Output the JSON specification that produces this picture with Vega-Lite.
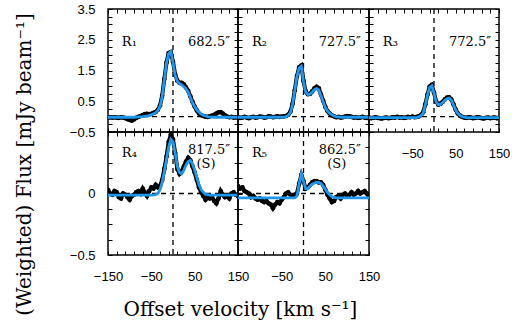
{
"$schema":"https://vega.github.io/schema/vega-lite/v6.json",
"background":"white",
"padding":{"left":13,"top":2,"right":5,"bottom":5},
"datasets":{
"spec":[
{"p":"R1","v":-150,"o":-0.03,"m":-0.02},{"p":"R1","v":-145,"o":-0.02,"m":-0.02},{"p":"R1","v":-140,"o":-0.03,"m":-0.02},{"p":"R1","v":-135,"o":-0.02,"m":-0.02},{"p":"R1","v":-130,"o":-0.03,"m":-0.02},{"p":"R1","v":-125,"o":-0.04,"m":-0.02},{"p":"R1","v":-120,"o":-0.02,"m":-0.02},{"p":"R1","v":-115,"o":-0.03,"m":-0.02},{"p":"R1","v":-110,"o":-0.05,"m":-0.02},{"p":"R1","v":-105,"o":-0.08,"m":-0.02},{"p":"R1","v":-100,"o":-0.11,"m":-0.02},{"p":"R1","v":-95,"o":-0.13,"m":-0.02},{"p":"R1","v":-90,"o":-0.09,"m":-0.02},{"p":"R1","v":-85,"o":-0.04,"m":-0.015},{"p":"R1","v":-80,"o":-0.01,"m":-0.01},{"p":"R1","v":-75,"o":0.02,"m":-0.005},{"p":"R1","v":-70,"o":0.05,"m":0.0},{"p":"R1","v":-65,"o":0.08,"m":0.01},{"p":"R1","v":-60,"o":0.09,"m":0.02},{"p":"R1","v":-55,"o":0.08,"m":0.035},{"p":"R1","v":-50,"o":0.09,"m":0.06},{"p":"R1","v":-45,"o":0.12,"m":0.09},{"p":"R1","v":-40,"o":0.15,"m":0.13},{"p":"R1","v":-35,"o":0.22,"m":0.2},{"p":"R1","v":-30,"o":0.36,"m":0.33},{"p":"R1","v":-25,"o":0.68,"m":0.65},{"p":"R1","v":-20,"o":1.22,"m":1.2},{"p":"R1","v":-15,"o":1.76,"m":1.74},{"p":"R1","v":-10,"o":2.07,"m":2.05},{"p":"R1","v":-5,"o":2.1,"m":2.12},{"p":"R1","v":0,"o":1.78,"m":1.75},{"p":"R1","v":5,"o":1.37,"m":1.35},{"p":"R1","v":10,"o":1.17,"m":1.15},{"p":"R1","v":15,"o":1.1,"m":1.07},{"p":"R1","v":20,"o":1.1,"m":1.03},{"p":"R1","v":25,"o":1.05,"m":0.97},{"p":"R1","v":30,"o":0.95,"m":0.9},{"p":"R1","v":35,"o":0.84,"m":0.8},{"p":"R1","v":40,"o":0.66,"m":0.62},{"p":"R1","v":45,"o":0.48,"m":0.45},{"p":"R1","v":50,"o":0.33,"m":0.33},{"p":"R1","v":55,"o":0.2,"m":0.22},{"p":"R1","v":60,"o":0.1,"m":0.14},{"p":"R1","v":65,"o":0.05,"m":0.08},{"p":"R1","v":70,"o":0.02,"m":0.05},{"p":"R1","v":75,"o":0.0,"m":0.02},{"p":"R1","v":80,"o":-0.01,"m":0.0},{"p":"R1","v":85,"o":0.01,"m":-0.01},{"p":"R1","v":90,"o":0.03,"m":-0.015},{"p":"R1","v":95,"o":0.06,"m":-0.02},{"p":"R1","v":100,"o":0.1,"m":-0.02},{"p":"R1","v":105,"o":0.14,"m":-0.02},{"p":"R1","v":110,"o":0.15,"m":-0.02},{"p":"R1","v":115,"o":0.1,"m":-0.02},{"p":"R1","v":120,"o":0.04,"m":-0.02},{"p":"R1","v":125,"o":0.0,"m":-0.02},{"p":"R1","v":130,"o":-0.02,"m":-0.02},{"p":"R1","v":135,"o":-0.01,"m":-0.02},{"p":"R1","v":140,"o":-0.03,"m":-0.02},{"p":"R1","v":145,"o":-0.02,"m":-0.02},{"p":"R1","v":150,"o":-0.03,"m":-0.02},
{"p":"R2","v":-150,"o":-0.02,"m":-0.02},{"p":"R2","v":-145,"o":-0.04,"m":-0.02},{"p":"R2","v":-140,"o":-0.03,"m":-0.02},{"p":"R2","v":-135,"o":-0.01,"m":-0.02},{"p":"R2","v":-130,"o":-0.03,"m":-0.02},{"p":"R2","v":-125,"o":-0.05,"m":-0.02},{"p":"R2","v":-120,"o":-0.02,"m":-0.02},{"p":"R2","v":-115,"o":-0.01,"m":-0.02},{"p":"R2","v":-110,"o":-0.03,"m":-0.02},{"p":"R2","v":-105,"o":-0.02,"m":-0.02},{"p":"R2","v":-100,"o":0.0,"m":-0.02},{"p":"R2","v":-95,"o":-0.01,"m":-0.02},{"p":"R2","v":-90,"o":-0.03,"m":-0.02},{"p":"R2","v":-85,"o":-0.02,"m":-0.02},{"p":"R2","v":-80,"o":0.01,"m":-0.02},{"p":"R2","v":-75,"o":0.0,"m":-0.02},{"p":"R2","v":-70,"o":-0.02,"m":-0.02},{"p":"R2","v":-65,"o":-0.01,"m":-0.02},{"p":"R2","v":-60,"o":0.01,"m":-0.02},{"p":"R2","v":-55,"o":-0.01,"m":-0.02},{"p":"R2","v":-50,"o":0.0,"m":-0.02},{"p":"R2","v":-45,"o":0.01,"m":-0.02},{"p":"R2","v":-40,"o":0.02,"m":0.0},{"p":"R2","v":-35,"o":0.06,"m":0.04},{"p":"R2","v":-30,"o":0.16,"m":0.13},{"p":"R2","v":-25,"o":0.42,"m":0.4},{"p":"R2","v":-20,"o":0.86,"m":0.85},{"p":"R2","v":-15,"o":1.32,"m":1.3},{"p":"R2","v":-10,"o":1.6,"m":1.58},{"p":"R2","v":-5,"o":1.66,"m":1.64},{"p":"R2","v":0,"o":1.16,"m":1.14},{"p":"R2","v":5,"o":0.82,"m":0.8},{"p":"R2","v":10,"o":0.73,"m":0.72},{"p":"R2","v":15,"o":0.74,"m":0.73},{"p":"R2","v":20,"o":0.82,"m":0.8},{"p":"R2","v":25,"o":0.92,"m":0.88},{"p":"R2","v":30,"o":0.97,"m":0.92},{"p":"R2","v":35,"o":0.92,"m":0.86},{"p":"R2","v":40,"o":0.72,"m":0.68},{"p":"R2","v":45,"o":0.52,"m":0.48},{"p":"R2","v":50,"o":0.32,"m":0.3},{"p":"R2","v":55,"o":0.18,"m":0.18},{"p":"R2","v":60,"o":0.1,"m":0.11},{"p":"R2","v":65,"o":0.04,"m":0.06},{"p":"R2","v":70,"o":0.01,"m":0.02},{"p":"R2","v":75,"o":-0.02,"m":0.0},{"p":"R2","v":80,"o":-0.01,"m":-0.01},{"p":"R2","v":85,"o":-0.03,"m":-0.02},{"p":"R2","v":90,"o":-0.02,"m":-0.02},{"p":"R2","v":95,"o":0.0,"m":-0.02},{"p":"R2","v":100,"o":0.02,"m":-0.02},{"p":"R2","v":105,"o":0.01,"m":-0.02},{"p":"R2","v":110,"o":-0.01,"m":-0.02},{"p":"R2","v":115,"o":-0.03,"m":-0.02},{"p":"R2","v":120,"o":-0.02,"m":-0.02},{"p":"R2","v":125,"o":-0.04,"m":-0.02},{"p":"R2","v":130,"o":-0.03,"m":-0.02},{"p":"R2","v":135,"o":-0.01,"m":-0.02},{"p":"R2","v":140,"o":-0.03,"m":-0.02},{"p":"R2","v":145,"o":-0.04,"m":-0.02},{"p":"R2","v":150,"o":-0.02,"m":-0.02},
{"p":"R3","v":-150,"o":-0.03,"m":-0.03},{"p":"R3","v":-145,"o":-0.05,"m":-0.03},{"p":"R3","v":-140,"o":-0.04,"m":-0.03},{"p":"R3","v":-135,"o":-0.02,"m":-0.03},{"p":"R3","v":-130,"o":-0.04,"m":-0.03},{"p":"R3","v":-125,"o":-0.05,"m":-0.03},{"p":"R3","v":-120,"o":-0.06,"m":-0.03},{"p":"R3","v":-115,"o":-0.04,"m":-0.03},{"p":"R3","v":-110,"o":-0.03,"m":-0.03},{"p":"R3","v":-105,"o":-0.05,"m":-0.03},{"p":"R3","v":-100,"o":-0.04,"m":-0.03},{"p":"R3","v":-95,"o":-0.02,"m":-0.03},{"p":"R3","v":-90,"o":-0.03,"m":-0.03},{"p":"R3","v":-85,"o":-0.01,"m":-0.03},{"p":"R3","v":-80,"o":-0.03,"m":-0.03},{"p":"R3","v":-75,"o":-0.02,"m":-0.03},{"p":"R3","v":-70,"o":-0.04,"m":-0.03},{"p":"R3","v":-65,"o":-0.03,"m":-0.03},{"p":"R3","v":-60,"o":-0.01,"m":-0.03},{"p":"R3","v":-55,"o":-0.02,"m":-0.03},{"p":"R3","v":-50,"o":0.0,"m":-0.03},{"p":"R3","v":-45,"o":-0.02,"m":-0.03},{"p":"R3","v":-40,"o":-0.01,"m":-0.03},{"p":"R3","v":-35,"o":0.01,"m":-0.01},{"p":"R3","v":-30,"o":0.05,"m":0.03},{"p":"R3","v":-25,"o":0.14,"m":0.11},{"p":"R3","v":-20,"o":0.4,"m":0.38},{"p":"R3","v":-15,"o":0.72,"m":0.7},{"p":"R3","v":-10,"o":0.98,"m":0.95},{"p":"R3","v":-5,"o":1.03,"m":1.0},{"p":"R3","v":0,"o":0.78,"m":0.76},{"p":"R3","v":5,"o":0.49,"m":0.48},{"p":"R3","v":10,"o":0.39,"m":0.38},{"p":"R3","v":15,"o":0.42,"m":0.4},{"p":"R3","v":20,"o":0.48,"m":0.46},{"p":"R3","v":25,"o":0.56,"m":0.53},{"p":"R3","v":30,"o":0.62,"m":0.58},{"p":"R3","v":35,"o":0.63,"m":0.6},{"p":"R3","v":40,"o":0.56,"m":0.54},{"p":"R3","v":45,"o":0.4,"m":0.38},{"p":"R3","v":50,"o":0.23,"m":0.22},{"p":"R3","v":55,"o":0.1,"m":0.1},{"p":"R3","v":60,"o":0.03,"m":0.04},{"p":"R3","v":65,"o":-0.01,"m":0.0},{"p":"R3","v":70,"o":-0.03,"m":-0.02},{"p":"R3","v":75,"o":-0.04,"m":-0.03},{"p":"R3","v":80,"o":-0.02,"m":-0.03},{"p":"R3","v":85,"o":-0.03,"m":-0.03},{"p":"R3","v":90,"o":-0.05,"m":-0.03},{"p":"R3","v":95,"o":-0.04,"m":-0.03},{"p":"R3","v":100,"o":-0.02,"m":-0.03},{"p":"R3","v":105,"o":-0.03,"m":-0.03},{"p":"R3","v":110,"o":-0.05,"m":-0.03},{"p":"R3","v":115,"o":-0.06,"m":-0.03},{"p":"R3","v":120,"o":-0.04,"m":-0.03},{"p":"R3","v":125,"o":-0.03,"m":-0.03},{"p":"R3","v":130,"o":-0.05,"m":-0.03},{"p":"R3","v":135,"o":-0.04,"m":-0.03},{"p":"R3","v":140,"o":-0.03,"m":-0.03},{"p":"R3","v":145,"o":-0.05,"m":-0.03},{"p":"R3","v":150,"o":-0.04,"m":-0.03},
{"p":"R4","v":-150,"o":0.03,"m":-0.013},{"p":"R4","v":-145,"o":0.0,"m":-0.013},{"p":"R4","v":-140,"o":-0.01,"m":-0.013},{"p":"R4","v":-135,"o":0.02,"m":-0.013},{"p":"R4","v":-130,"o":0.01,"m":-0.013},{"p":"R4","v":-125,"o":-0.03,"m":-0.013},{"p":"R4","v":-120,"o":-0.04,"m":-0.013},{"p":"R4","v":-115,"o":0.0,"m":-0.013},{"p":"R4","v":-110,"o":-0.01,"m":-0.013},{"p":"R4","v":-105,"o":-0.03,"m":-0.013},{"p":"R4","v":-100,"o":-0.05,"m":-0.013},{"p":"R4","v":-95,"o":-0.02,"m":-0.013},{"p":"R4","v":-90,"o":-0.01,"m":-0.013},{"p":"R4","v":-85,"o":0.01,"m":-0.013},{"p":"R4","v":-80,"o":0.02,"m":-0.013},{"p":"R4","v":-75,"o":0.0,"m":-0.013},{"p":"R4","v":-70,"o":0.04,"m":-0.013},{"p":"R4","v":-65,"o":0.01,"m":-0.013},{"p":"R4","v":-60,"o":-0.02,"m":-0.013},{"p":"R4","v":-55,"o":0.02,"m":-0.013},{"p":"R4","v":-50,"o":0.05,"m":-0.013},{"p":"R4","v":-45,"o":0.04,"m":-0.012},{"p":"R4","v":-40,"o":0.07,"m":-0.01},{"p":"R4","v":-35,"o":0.05,"m":0.0},{"p":"R4","v":-30,"o":0.06,"m":0.03},{"p":"R4","v":-25,"o":0.11,"m":0.09},{"p":"R4","v":-20,"o":0.2,"m":0.18},{"p":"R4","v":-15,"o":0.3,"m":0.28},{"p":"R4","v":-10,"o":0.42,"m":0.38},{"p":"R4","v":-5,"o":0.48,"m":0.44},{"p":"R4","v":0,"o":0.44,"m":0.42},{"p":"R4","v":5,"o":0.33,"m":0.33},{"p":"R4","v":10,"o":0.2,"m":0.22},{"p":"R4","v":15,"o":0.16,"m":0.17},{"p":"R4","v":20,"o":0.18,"m":0.16},{"p":"R4","v":25,"o":0.22,"m":0.19},{"p":"R4","v":30,"o":0.26,"m":0.23},{"p":"R4","v":35,"o":0.29,"m":0.26},{"p":"R4","v":40,"o":0.27,"m":0.27},{"p":"R4","v":45,"o":0.22,"m":0.24},{"p":"R4","v":50,"o":0.17,"m":0.19},{"p":"R4","v":55,"o":0.11,"m":0.13},{"p":"R4","v":60,"o":0.05,"m":0.07},{"p":"R4","v":65,"o":0.01,"m":0.03},{"p":"R4","v":70,"o":-0.02,"m":0.01},{"p":"R4","v":75,"o":-0.05,"m":-0.005},{"p":"R4","v":80,"o":-0.03,"m":-0.01},{"p":"R4","v":85,"o":-0.04,"m":-0.013},{"p":"R4","v":90,"o":-0.03,"m":-0.013},{"p":"R4","v":95,"o":-0.06,"m":-0.013},{"p":"R4","v":100,"o":-0.08,"m":-0.013},{"p":"R4","v":105,"o":-0.04,"m":-0.013},{"p":"R4","v":110,"o":0.02,"m":-0.013},{"p":"R4","v":115,"o":-0.01,"m":-0.013},{"p":"R4","v":120,"o":-0.03,"m":-0.013},{"p":"R4","v":125,"o":-0.02,"m":-0.013},{"p":"R4","v":130,"o":-0.04,"m":-0.013},{"p":"R4","v":135,"o":0.0,"m":-0.013},{"p":"R4","v":140,"o":0.01,"m":-0.013},{"p":"R4","v":145,"o":-0.01,"m":-0.013},{"p":"R4","v":150,"o":-0.02,"m":-0.013},
{"p":"R5","v":-150,"o":0.06,"m":-0.035},{"p":"R5","v":-145,"o":0.04,"m":-0.035},{"p":"R5","v":-140,"o":0.05,"m":-0.035},{"p":"R5","v":-135,"o":0.02,"m":-0.035},{"p":"R5","v":-130,"o":0.01,"m":-0.035},{"p":"R5","v":-125,"o":0.0,"m":-0.035},{"p":"R5","v":-120,"o":-0.03,"m":-0.035},{"p":"R5","v":-115,"o":-0.02,"m":-0.035},{"p":"R5","v":-110,"o":-0.04,"m":-0.035},{"p":"R5","v":-105,"o":-0.05,"m":-0.035},{"p":"R5","v":-100,"o":-0.04,"m":-0.035},{"p":"R5","v":-95,"o":-0.06,"m":-0.035},{"p":"R5","v":-90,"o":-0.07,"m":-0.035},{"p":"R5","v":-85,"o":-0.06,"m":-0.035},{"p":"R5","v":-80,"o":-0.08,"m":-0.035},{"p":"R5","v":-75,"o":-0.09,"m":-0.035},{"p":"R5","v":-70,"o":-0.12,"m":-0.035},{"p":"R5","v":-65,"o":-0.09,"m":-0.035},{"p":"R5","v":-60,"o":-0.07,"m":-0.035},{"p":"R5","v":-55,"o":-0.08,"m":-0.035},{"p":"R5","v":-50,"o":-0.05,"m":-0.035},{"p":"R5","v":-45,"o":-0.03,"m":-0.035},{"p":"R5","v":-40,"o":0.0,"m":-0.035},{"p":"R5","v":-35,"o":0.01,"m":-0.035},{"p":"R5","v":-30,"o":-0.01,"m":-0.035},{"p":"R5","v":-25,"o":-0.02,"m":-0.035},{"p":"R5","v":-20,"o":-0.01,"m":-0.035},{"p":"R5","v":-15,"o":0.0,"m":-0.02},{"p":"R5","v":-10,"o":0.08,"m":0.08},{"p":"R5","v":-5,"o":0.15,"m":0.16},{"p":"R5","v":0,"o":0.1,"m":0.1},{"p":"R5","v":5,"o":0.04,"m":0.04},{"p":"R5","v":10,"o":0.05,"m":0.04},{"p":"R5","v":15,"o":0.07,"m":0.06},{"p":"R5","v":20,"o":0.09,"m":0.075},{"p":"R5","v":25,"o":0.1,"m":0.085},{"p":"R5","v":30,"o":0.1,"m":0.09},{"p":"R5","v":35,"o":0.09,"m":0.09},{"p":"R5","v":40,"o":0.09,"m":0.08},{"p":"R5","v":45,"o":0.07,"m":0.06},{"p":"R5","v":50,"o":0.03,"m":0.035},{"p":"R5","v":55,"o":-0.01,"m":0.01},{"p":"R5","v":60,"o":-0.04,"m":-0.01},{"p":"R5","v":65,"o":-0.07,"m":-0.025},{"p":"R5","v":70,"o":-0.06,"m":-0.032},{"p":"R5","v":75,"o":-0.03,"m":-0.035},{"p":"R5","v":80,"o":-0.02,"m":-0.035},{"p":"R5","v":85,"o":-0.04,"m":-0.035},{"p":"R5","v":90,"o":-0.01,"m":-0.035},{"p":"R5","v":95,"o":0.0,"m":-0.035},{"p":"R5","v":100,"o":-0.02,"m":-0.035},{"p":"R5","v":105,"o":-0.01,"m":-0.035},{"p":"R5","v":110,"o":0.01,"m":-0.035},{"p":"R5","v":115,"o":-0.01,"m":-0.035},{"p":"R5","v":120,"o":0.0,"m":-0.035},{"p":"R5","v":125,"o":0.02,"m":-0.035},{"p":"R5","v":130,"o":0.0,"m":-0.035},{"p":"R5","v":135,"o":0.01,"m":-0.035},{"p":"R5","v":140,"o":0.02,"m":-0.035},{"p":"R5","v":145,"o":0.0,"m":-0.035},{"p":"R5","v":150,"o":-0.03,"m":-0.035}
],
"labels":[
{"p":"R1","k":"r","v":-118,"f":2.43,"t":"R₁"},{"p":"R1","k":"n","v":83,"f":2.43,"t":"682.5″"},
{"p":"R2","k":"r","v":-118,"f":2.43,"t":"R₂"},{"p":"R2","k":"n","v":83,"f":2.43,"t":"727.5″"},
{"p":"R3","k":"r","v":-118,"f":2.43,"t":"R₃"},{"p":"R3","k":"n","v":83,"f":2.43,"t":"772.5″"},
{"p":"R4","k":"r","v":-118,"f":0.33,"t":"R₄"},{"p":"R4","k":"n","v":83,"f":0.35,"t":"817.5″"},{"p":"R4","k":"n","v":76,"f":0.24,"t":"(S)"},
{"p":"R5","k":"r","v":-118,"f":0.33,"t":"R₅"},{"p":"R5","k":"n","v":83,"f":0.35,"t":"862.5″"},{"p":"R5","k":"n","v":76,"f":0.24,"t":"(S)"}
]
},
"spacing":0,
"bounds":"flush",
"columns":3,
"concat":[
{"width":130,"height":123,"resolve":{"axis":{"x":"independent","y":"independent"}},"layer":[
{"data":{"values":[{}]},"mark":{"type":"rule","strokeDash":[5,4],"strokeWidth":1.3,"color":"black"},"encoding":{"y":{"datum":0,"type":"quantitative","axis":null}}},
{"data":{"values":[{}]},"mark":{"type":"rule","strokeDash":[5,4],"strokeWidth":1.3,"color":"black"},"encoding":{"x":{"datum":0,"type":"quantitative","axis":null}}},
{"data":{"name":"spec"},"transform":[{"filter":"datum.p=='R1'"}],"mark":{"type":"line","color":"black","strokeWidth":4,"clip":true},"encoding":{"x":{"field":"v","type":"quantitative","scale":{"domain":[-150,150],"nice":false,"zero":false},"axis":{"orient":"top","labels":false,"title":null,"values":[-150,-130,-110,-90,-70,-50,-30,-10,10,30,50,70,90,110,130,150]}},"y":{"field":"o","type":"quantitative","scale":{"domain":[-0.5,3.5],"nice":false,"zero":false},"axis":{"orient":"right","labels":false,"title":null,"values":[-0.5,-0.25,0,0.25,0.5,0.75,1,1.25,1.5,1.75,2,2.25,2.5,2.75,3,3.25,3.5]}}}},
{"data":{"name":"spec"},"transform":[{"filter":"datum.p=='R1'"}],"mark":{"type":"circle","color":"black","size":22,"opacity":1,"clip":true},"encoding":{"x":{"field":"v","type":"quantitative","axis":null},"y":{"field":"o","type":"quantitative","axis":null}}},
{"data":{"name":"spec"},"transform":[{"filter":"datum.p=='R1'"}],"mark":{"type":"line","color":"#1f97ec","strokeWidth":2.8,"clip":true},"encoding":{"x":{"field":"v","type":"quantitative","axis":{"orient":"bottom","labels":false,"title":null,"values":[-150,-130,-110,-90,-70,-50,-30,-10,10,30,50,70,90,110,130,150]}},"y":{"field":"m","type":"quantitative","axis":{"orient":"left","title":null,"labelPadding":17,"values":[-0.5,-0.25,0,0.25,0.5,0.75,1,1.25,1.5,1.75,2,2.25,2.5,2.75,3,3.25,3.5],"labelExpr":"abs((datum.value*2)%2)==1 ? format(datum.value,'.1f') : ''"}}}},
{"data":{"name":"labels"},"transform":[{"filter":"datum.p=='R1' && datum.k=='r'"}],"mark":{"type":"text","align":"left","baseline":"middle","font":"DejaVu Serif","fontSize":13,"color":"black"},"encoding":{"x":{"field":"v","type":"quantitative","axis":null},"y":{"field":"f","type":"quantitative","axis":null},"text":{"field":"t"}}},
{"data":{"name":"labels"},"transform":[{"filter":"datum.p=='R1' && datum.k=='n'"}],"mark":{"type":"text","align":"center","baseline":"middle","font":"DejaVu Serif","fontSize":13,"color":"black"},"encoding":{"x":{"field":"v","type":"quantitative","axis":null},"y":{"field":"f","type":"quantitative","axis":null},"text":{"field":"t"}}}
]},
{"width":131,"height":123,"resolve":{"axis":{"x":"independent","y":"independent"}},"layer":[
{"data":{"values":[{}]},"mark":{"type":"rule","strokeDash":[5,4],"strokeWidth":1.3,"color":"black"},"encoding":{"y":{"datum":0,"type":"quantitative","axis":null}}},
{"data":{"values":[{}]},"mark":{"type":"rule","strokeDash":[5,4],"strokeWidth":1.3,"color":"black"},"encoding":{"x":{"datum":0,"type":"quantitative","axis":null}}},
{"data":{"name":"spec"},"transform":[{"filter":"datum.p=='R2'"}],"mark":{"type":"line","color":"black","strokeWidth":4,"clip":true},"encoding":{"x":{"field":"v","type":"quantitative","scale":{"domain":[-150,150],"nice":false,"zero":false},"axis":{"orient":"top","labels":false,"title":null,"values":[-150,-130,-110,-90,-70,-50,-30,-10,10,30,50,70,90,110,130,150]}},"y":{"field":"o","type":"quantitative","scale":{"domain":[-0.5,3.5],"nice":false,"zero":false},"axis":{"orient":"right","labels":false,"title":null,"values":[-0.5,-0.25,0,0.25,0.5,0.75,1,1.25,1.5,1.75,2,2.25,2.5,2.75,3,3.25,3.5]}}}},
{"data":{"name":"spec"},"transform":[{"filter":"datum.p=='R2'"}],"mark":{"type":"circle","color":"black","size":22,"opacity":1,"clip":true},"encoding":{"x":{"field":"v","type":"quantitative","axis":null},"y":{"field":"o","type":"quantitative","axis":null}}},
{"data":{"name":"spec"},"transform":[{"filter":"datum.p=='R2'"}],"mark":{"type":"line","color":"#1f97ec","strokeWidth":2.8,"clip":true},"encoding":{"x":{"field":"v","type":"quantitative","axis":{"orient":"bottom","labels":false,"title":null,"values":[-150,-130,-110,-90,-70,-50,-30,-10,10,30,50,70,90,110,130,150]}},"y":{"field":"m","type":"quantitative","axis":{"orient":"left","title":null,"labels":false,"values":[-0.5,-0.25,0,0.25,0.5,0.75,1,1.25,1.5,1.75,2,2.25,2.5,2.75,3,3.25,3.5]}}}},
{"data":{"name":"labels"},"transform":[{"filter":"datum.p=='R2' && datum.k=='r'"}],"mark":{"type":"text","align":"left","baseline":"middle","font":"DejaVu Serif","fontSize":13,"color":"black"},"encoding":{"x":{"field":"v","type":"quantitative","axis":null},"y":{"field":"f","type":"quantitative","axis":null},"text":{"field":"t"}}},
{"data":{"name":"labels"},"transform":[{"filter":"datum.p=='R2' && datum.k=='n'"}],"mark":{"type":"text","align":"center","baseline":"middle","font":"DejaVu Serif","fontSize":13,"color":"black"},"encoding":{"x":{"field":"v","type":"quantitative","axis":null},"y":{"field":"f","type":"quantitative","axis":null},"text":{"field":"t"}}}
]},
{"width":130,"height":123,"resolve":{"axis":{"x":"independent","y":"independent"}},"layer":[
{"data":{"values":[{}]},"mark":{"type":"rule","strokeDash":[5,4],"strokeWidth":1.3,"color":"black"},"encoding":{"y":{"datum":0,"type":"quantitative","axis":null}}},
{"data":{"values":[{}]},"mark":{"type":"rule","strokeDash":[5,4],"strokeWidth":1.3,"color":"black"},"encoding":{"x":{"datum":0,"type":"quantitative","axis":null}}},
{"data":{"name":"spec"},"transform":[{"filter":"datum.p=='R3'"}],"mark":{"type":"line","color":"black","strokeWidth":4,"clip":true},"encoding":{"x":{"field":"v","type":"quantitative","scale":{"domain":[-150,150],"nice":false,"zero":false},"axis":{"orient":"top","labels":false,"title":null,"values":[-150,-130,-110,-90,-70,-50,-30,-10,10,30,50,70,90,110,130,150]}},"y":{"field":"o","type":"quantitative","scale":{"domain":[-0.5,3.5],"nice":false,"zero":false},"axis":{"orient":"right","labels":false,"title":null,"values":[-0.5,-0.25,0,0.25,0.5,0.75,1,1.25,1.5,1.75,2,2.25,2.5,2.75,3,3.25,3.5]}}}},
{"data":{"name":"spec"},"transform":[{"filter":"datum.p=='R3'"}],"mark":{"type":"circle","color":"black","size":22,"opacity":1,"clip":true},"encoding":{"x":{"field":"v","type":"quantitative","axis":null},"y":{"field":"o","type":"quantitative","axis":null}}},
{"data":{"name":"spec"},"transform":[{"filter":"datum.p=='R3'"}],"mark":{"type":"line","color":"#1f97ec","strokeWidth":2.8,"clip":true},"encoding":{"x":{"field":"v","type":"quantitative","axis":{"orient":"bottom","title":null,"labelPadding":19,"values":[-150,-130,-110,-90,-70,-50,-30,-10,10,30,50,70,90,110,130,150],"labelExpr":"(datum.value+150)%100==0 && datum.value>-150 ? format(datum.value,'d') : ''"}},"y":{"field":"m","type":"quantitative","axis":{"orient":"left","title":null,"labels":false,"values":[-0.5,-0.25,0,0.25,0.5,0.75,1,1.25,1.5,1.75,2,2.25,2.5,2.75,3,3.25,3.5]}}}},
{"data":{"name":"labels"},"transform":[{"filter":"datum.p=='R3' && datum.k=='r'"}],"mark":{"type":"text","align":"left","baseline":"middle","font":"DejaVu Serif","fontSize":13,"color":"black"},"encoding":{"x":{"field":"v","type":"quantitative","axis":null},"y":{"field":"f","type":"quantitative","axis":null},"text":{"field":"t"}}},
{"data":{"name":"labels"},"transform":[{"filter":"datum.p=='R3' && datum.k=='n'"}],"mark":{"type":"text","align":"center","baseline":"middle","font":"DejaVu Serif","fontSize":13,"color":"black"},"encoding":{"x":{"field":"v","type":"quantitative","axis":null},"y":{"field":"f","type":"quantitative","axis":null},"text":{"field":"t"}}}
]},
{"width":130,"height":123,"resolve":{"axis":{"x":"independent","y":"independent"}},"layer":[
{"data":{"values":[{}]},"mark":{"type":"rule","strokeDash":[5,4],"strokeWidth":1.3,"color":"black"},"encoding":{"y":{"datum":0,"type":"quantitative","axis":null}}},
{"data":{"values":[{}]},"mark":{"type":"rule","strokeDash":[5,4],"strokeWidth":1.3,"color":"black"},"encoding":{"x":{"datum":0,"type":"quantitative","axis":null}}},
{"data":{"name":"spec"},"transform":[{"filter":"datum.p=='R4'"}],"mark":{"type":"line","color":"black","strokeWidth":4,"clip":true},"encoding":{"x":{"field":"v","type":"quantitative","scale":{"domain":[-150,150],"nice":false,"zero":false},"axis":{"orient":"top","labels":false,"title":null,"values":[-150,-130,-110,-90,-70,-50,-30,-10,10,30,50,70,90,110,130,150]}},"y":{"field":"o","type":"quantitative","scale":{"domain":[-0.5,0.5],"nice":false,"zero":false},"axis":{"orient":"right","labels":false,"title":null,"values":[-0.5,-0.375,-0.25,-0.125,0,0.125,0.25,0.375,0.5]}}}},
{"data":{"name":"spec"},"transform":[{"filter":"datum.p=='R4'"}],"mark":{"type":"circle","color":"black","size":22,"opacity":1,"clip":true},"encoding":{"x":{"field":"v","type":"quantitative","axis":null},"y":{"field":"o","type":"quantitative","axis":null}}},
{"data":{"name":"spec"},"transform":[{"filter":"datum.p=='R4'"}],"mark":{"type":"line","color":"#1f97ec","strokeWidth":2.8,"clip":true},"encoding":{"x":{"field":"v","type":"quantitative","axis":{"orient":"bottom","labelPadding":19,"values":[-150,-130,-110,-90,-70,-50,-30,-10,10,30,50,70,90,110,130,150],"labelExpr":"(datum.value+150)%100==0 ? format(datum.value,'d') : ''","title":"Offset velocity [km s⁻¹]","titleX":132,"titleY":54,"titleAlign":"center","titleBaseline":"middle"}},"y":{"field":"m","type":"quantitative","axis":{"orient":"left","labelPadding":17,"values":[-0.5,-0.375,-0.25,-0.125,0,0.125,0.25,0.375,0.5],"labelExpr":"datum.value==0 ? '0' : (datum.value==-0.5 ? format(datum.value,'.1f') : '')","title":"(Weighted) Flux [mJy beam⁻¹]","titleX":-84,"titleY":32,"titleAngle":270,"titleAlign":"center","titleBaseline":"middle"}}}},
{"data":{"name":"labels"},"transform":[{"filter":"datum.p=='R4' && datum.k=='r'"}],"mark":{"type":"text","align":"left","baseline":"middle","font":"DejaVu Serif","fontSize":13,"color":"black"},"encoding":{"x":{"field":"v","type":"quantitative","axis":null},"y":{"field":"f","type":"quantitative","axis":null},"text":{"field":"t"}}},
{"data":{"name":"labels"},"transform":[{"filter":"datum.p=='R4' && datum.k=='n'"}],"mark":{"type":"text","align":"center","baseline":"middle","font":"DejaVu Serif","fontSize":13,"color":"black"},"encoding":{"x":{"field":"v","type":"quantitative","axis":null},"y":{"field":"f","type":"quantitative","axis":null},"text":{"field":"t"}}}
]},
{"width":131,"height":123,"resolve":{"axis":{"x":"independent","y":"independent"}},"layer":[
{"data":{"values":[{}]},"mark":{"type":"rule","strokeDash":[5,4],"strokeWidth":1.3,"color":"black"},"encoding":{"y":{"datum":0,"type":"quantitative","axis":null}}},
{"data":{"values":[{}]},"mark":{"type":"rule","strokeDash":[5,4],"strokeWidth":1.3,"color":"black"},"encoding":{"x":{"datum":0,"type":"quantitative","axis":null}}},
{"data":{"name":"spec"},"transform":[{"filter":"datum.p=='R5'"}],"mark":{"type":"line","color":"black","strokeWidth":4,"clip":true},"encoding":{"x":{"field":"v","type":"quantitative","scale":{"domain":[-150,150],"nice":false,"zero":false},"axis":{"orient":"top","labels":false,"title":null,"values":[-150,-130,-110,-90,-70,-50,-30,-10,10,30,50,70,90,110,130,150]}},"y":{"field":"o","type":"quantitative","scale":{"domain":[-0.5,0.5],"nice":false,"zero":false},"axis":{"orient":"right","labels":false,"title":null,"values":[-0.5,-0.375,-0.25,-0.125,0,0.125,0.25,0.375,0.5]}}}},
{"data":{"name":"spec"},"transform":[{"filter":"datum.p=='R5'"}],"mark":{"type":"circle","color":"black","size":22,"opacity":1,"clip":true},"encoding":{"x":{"field":"v","type":"quantitative","axis":null},"y":{"field":"o","type":"quantitative","axis":null}}},
{"data":{"name":"spec"},"transform":[{"filter":"datum.p=='R5'"}],"mark":{"type":"line","color":"#1f97ec","strokeWidth":2.8,"clip":true},"encoding":{"x":{"field":"v","type":"quantitative","axis":{"orient":"bottom","title":null,"labelPadding":19,"values":[-150,-130,-110,-90,-70,-50,-30,-10,10,30,50,70,90,110,130,150],"labelExpr":"(datum.value+150)%100==0 && datum.value>-150 ? format(datum.value,'d') : ''"}},"y":{"field":"m","type":"quantitative","axis":{"orient":"left","title":null,"labels":false,"values":[-0.5,-0.375,-0.25,-0.125,0,0.125,0.25,0.375,0.5]}}}},
{"data":{"name":"labels"},"transform":[{"filter":"datum.p=='R5' && datum.k=='r'"}],"mark":{"type":"text","align":"left","baseline":"middle","font":"DejaVu Serif","fontSize":13,"color":"black"},"encoding":{"x":{"field":"v","type":"quantitative","axis":null},"y":{"field":"f","type":"quantitative","axis":null},"text":{"field":"t"}}},
{"data":{"name":"labels"},"transform":[{"filter":"datum.p=='R5' && datum.k=='n'"}],"mark":{"type":"text","align":"center","baseline":"middle","font":"DejaVu Serif","fontSize":13,"color":"black"},"encoding":{"x":{"field":"v","type":"quantitative","axis":null},"y":{"field":"f","type":"quantitative","axis":null},"text":{"field":"t"}}}
]}
],
"config":{
"view":{"stroke":"black","strokeWidth":1.5},
"axis":{"grid":false,"domain":false,"tickColor":"black","tickSize":-4,"tickWidth":1,"labelFont":"Liberation Sans","labelFontSize":13,"labelColor":"black","labelFlush":false,"labelOverlap":false,"labelBound":false,"titleFont":"DejaVu Serif","titleFontSize":20,"titleFontWeight":"normal","titleColor":"black"}
}
}
